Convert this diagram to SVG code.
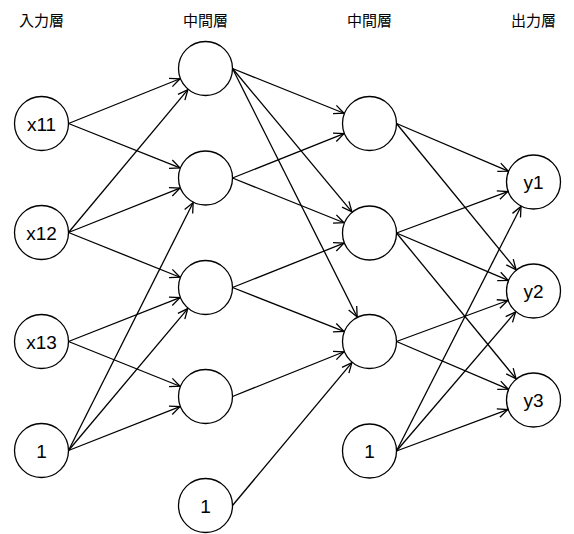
<svg xmlns="http://www.w3.org/2000/svg" width="574" height="534" viewBox="0 0 574 534">
<style>
.node circle{fill:#fff;stroke:#000;stroke-width:1.3}
.node text{font-family:"Liberation Sans",Arial,sans-serif;font-size:19px;text-anchor:middle;fill:#000}
.hdr{font-family:"Noto Sans CJK JP",sans-serif;font-size:15px;text-anchor:middle;fill:#000}
#edges line{stroke:#000;stroke-width:1.3;marker-end:url(#arr)}
</style>
<defs>
<marker id="arr" viewBox="-12 -6 13 12" markerWidth="13" markerHeight="12" refX="0" refY="0" orient="auto" markerUnits="userSpaceOnUse">
<path d="M-10,-4.5 L0,0 L-10,4.5" fill="none" stroke="#000" stroke-width="1.3"/>
</marker>
</defs>
<rect width="574" height="534" fill="#fff"/>
<g id="headers">
<text class="hdr" x="41.5" y="26">入力層</text>
<text class="hdr" x="205.5" y="26">中間層</text>
<text class="hdr" x="369.5" y="26">中間層</text>
<text class="hdr" x="533.5" y="26">出力層</text>
</g>
<g id="edges">
<line x1="68.5" y1="123.5" x2="179.98" y2="78.75"/>
<line x1="68.5" y1="123.5" x2="179.95" y2="167.84"/>
<line x1="68.5" y1="232.5" x2="187.87" y2="89.6"/>
<line x1="68.5" y1="232.5" x2="179.95" y2="188.16"/>
<line x1="68.5" y1="232.5" x2="179.98" y2="277.25"/>
<line x1="68.5" y1="341.5" x2="179.92" y2="297.58"/>
<line x1="68.5" y1="341.5" x2="179.98" y2="386.25"/>
<line x1="68.5" y1="450.5" x2="193.15" y2="202.57"/>
<line x1="68.5" y1="450.5" x2="187.81" y2="308.55"/>
<line x1="68.5" y1="450.5" x2="179.92" y2="406.58"/>
<line x1="232.5" y1="68.5" x2="343.98" y2="113.25"/>
<line x1="232.5" y1="68.5" x2="351.9" y2="211.87"/>
<line x1="232.5" y1="68.5" x2="357.17" y2="316.92"/>
<line x1="232.5" y1="178" x2="343.95" y2="133.66"/>
<line x1="232.5" y1="178" x2="343.98" y2="222.75"/>
<line x1="232.5" y1="287.5" x2="343.95" y2="243.16"/>
<line x1="232.5" y1="287.5" x2="343.92" y2="331.42"/>
<line x1="232.5" y1="396.5" x2="343.98" y2="351.75"/>
<line x1="232.5" y1="505.5" x2="351.87" y2="362.6"/>
<line x1="396.5" y1="123.5" x2="508.21" y2="171.2"/>
<line x1="396.5" y1="123.5" x2="516.09" y2="269.71"/>
<line x1="396.5" y1="233" x2="507.73" y2="191.59"/>
<line x1="396.5" y1="233" x2="508.18" y2="280.28"/>
<line x1="396.5" y1="233" x2="516.06" y2="378.74"/>
<line x1="396.5" y1="341.5" x2="507.7" y2="300.51"/>
<line x1="396.5" y1="341.5" x2="508.21" y2="389.2"/>
<line x1="396.5" y1="451" x2="521.02" y2="206.5"/>
<line x1="396.5" y1="451" x2="515.61" y2="311.89"/>
<line x1="396.5" y1="451" x2="507.73" y2="409.59"/>
</g>
<g id="x11" class="node"><circle cx="41.5" cy="123.5" r="27"/><text x="41.5" y="130.5">x11</text></g>
<g id="x12" class="node"><circle cx="41.5" cy="232.5" r="27"/><text x="41.5" y="239.5">x12</text></g>
<g id="x13" class="node"><circle cx="41.5" cy="341.5" r="27"/><text x="41.5" y="348.5">x13</text></g>
<g id="b1" class="node"><circle cx="41.5" cy="450.5" r="27"/><text x="41.5" y="457.5">1</text></g>
<g id="h1_1" class="node"><circle cx="205.5" cy="68.5" r="27"/></g>
<g id="h1_2" class="node"><circle cx="205.5" cy="178" r="27"/></g>
<g id="h1_3" class="node"><circle cx="205.5" cy="287.5" r="27"/></g>
<g id="h1_4" class="node"><circle cx="205.5" cy="396.5" r="27"/></g>
<g id="b2" class="node"><circle cx="205.5" cy="505.5" r="27"/><text x="205.5" y="512.5">1</text></g>
<g id="h2_1" class="node"><circle cx="369.5" cy="123.5" r="27"/></g>
<g id="h2_2" class="node"><circle cx="369.5" cy="233" r="27"/></g>
<g id="h2_3" class="node"><circle cx="369.5" cy="341.5" r="27"/></g>
<g id="b3" class="node"><circle cx="369.5" cy="451" r="27"/><text x="369.5" y="458">1</text></g>
<g id="y1" class="node"><circle cx="533.5" cy="182" r="27"/><text x="533.5" y="189">y1</text></g>
<g id="y2" class="node"><circle cx="533.5" cy="291" r="27"/><text x="533.5" y="298">y2</text></g>
<g id="y3" class="node"><circle cx="533.5" cy="400" r="27"/><text x="533.5" y="407">y3</text></g>
</svg>
